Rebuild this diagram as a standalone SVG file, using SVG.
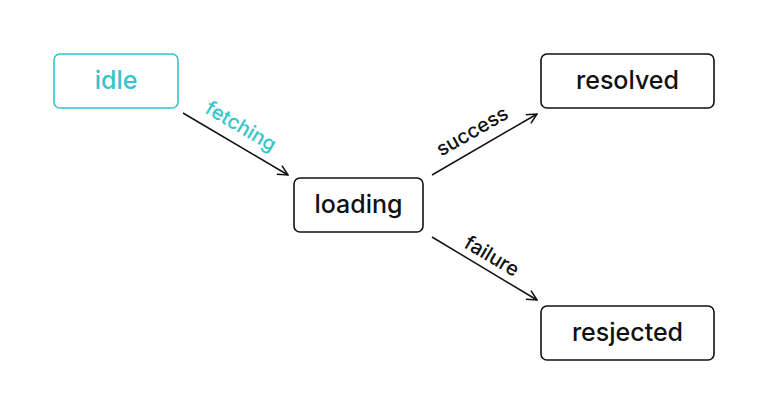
<svg xmlns="http://www.w3.org/2000/svg" width="768" height="400" viewBox="0 0 768 400">
<style>
.box{fill:#fff;stroke:#111;stroke-width:1.6}
.lbl{font-family:Inter,"Noto Sans",sans-serif;font-size:25px;font-weight:500;fill:#111;text-anchor:middle;dominant-baseline:central}
.elbl{font-family:Inter,"Noto Sans",sans-serif;font-size:20px;font-weight:500;fill:#111;text-anchor:middle;dominant-baseline:central}
.edge{stroke:#111;stroke-width:1.5;fill:none}
.cy{fill:#33c6c8}
</style>
<defs>
<marker id="arr" viewBox="0 0 12 12" refX="11" refY="6" markerWidth="12" markerHeight="12" markerUnits="userSpaceOnUse" orient="auto">
<path d="M1,1 L11,6 L1,11" fill="none" stroke="#111" stroke-width="1.5"/>
</marker>
</defs>
<rect width="768" height="400" fill="#fff"/>
<g id="connectors">
<line class="edge" x1="183" y1="113" x2="288" y2="175" marker-end="url(#arr)"/>
<line class="edge" x1="432" y1="175" x2="537" y2="114" marker-end="url(#arr)"/>
<line class="edge" x1="432" y1="237" x2="537" y2="300" marker-end="url(#arr)"/>
<text class="elbl cy" transform="translate(241,126) rotate(30.6)">fetching</text>
<text class="elbl" transform="translate(472,131) rotate(-30)">success</text>
<text class="elbl" transform="translate(492,256) rotate(30.5)">failure</text>
</g>
<g id="idle">
<rect x="54" y="54" width="124" height="54" rx="6" fill="#fff" stroke="#33c6c8" stroke-width="1.6"/>
<text class="lbl cy" x="116" y="80">idle</text>
</g>
<g id="loading">
<rect class="box" x="294" y="178" width="129" height="54" rx="6"/>
<text class="lbl" x="358.5" y="204">loading</text>
</g>
<g id="resolved">
<rect class="box" x="541" y="54" width="173" height="54" rx="6"/>
<text class="lbl" x="627.5" y="80">resolved</text>
</g>
<g id="resjected">
<rect class="box" x="541" y="306" width="173" height="54" rx="6"/>
<text class="lbl" x="627.5" y="332">resjected</text>
</g>
</svg>
